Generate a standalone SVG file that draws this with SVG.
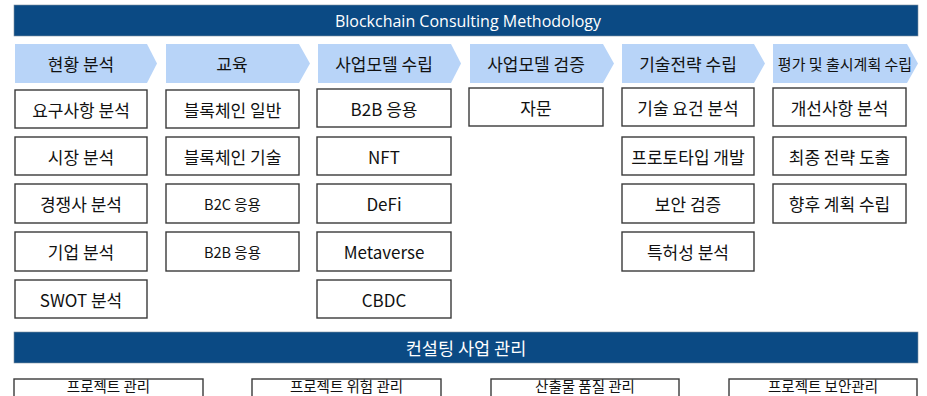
<svg xmlns="http://www.w3.org/2000/svg" width="927" height="396" viewBox="0 0 927 396">
<style>
  .banner { fill: #0B4A84; stroke: #7f8fa0; stroke-width: 0.6; }
  .btxt { fill: #ffffff; font-family: "Open Sans", "Noto Sans CJK KR", sans-serif; font-size: 16px; text-anchor: middle; dominant-baseline: central; }
  .chev { fill: #B8D4F8; }
  .ctxt { fill: #111; font-family: "Noto Sans CJK KR", sans-serif; font-size: 17px; text-anchor: middle; dominant-baseline: central; }
  .box { fill: #ffffff; stroke: #3a3a3a; stroke-width: 1.4; }
  .t { fill: #111; font-family: "Noto Sans CJK KR", sans-serif; font-size: 17px; text-anchor: middle; dominant-baseline: central; }
  .ts { font-size: 14.5px; }
  .tb { font-size: 14.5px; }
</style>
<rect width="927" height="396" fill="#ffffff"/>

<g id="title">
  <rect class="banner" x="14" y="5" width="904" height="31"/>
  <text class="btxt" x="468" y="20.5">Blockchain Consulting Methodology</text>
</g>

<g id="phase1"><polygon class="chev" points="15,44 147,44 157,63.5 147,83 15,83"/><text class="ctxt" x="81" y="63">현황 분석</text></g>
<g id="phase2"><polygon class="chev" points="166,44 299,44 310,63.5 299,83 166,83"/><text class="ctxt" x="232" y="63">교육</text></g>
<g id="phase3"><polygon class="chev" points="318,44 451,44 461,63.5 451,83 318,83"/><text class="ctxt" x="384" y="63">사업모델 수립</text></g>
<g id="phase4"><polygon class="chev" points="470,44 603,44 614,63.5 603,83 470,83"/><text class="ctxt" x="536" y="63">사업모델 검증</text></g>
<g id="phase5"><polygon class="chev" points="622,44 754,44 765,63.5 754,83 622,83"/><text class="ctxt" x="688" y="63">기술전략 수립</text></g>
<g id="phase6"><polygon class="chev" points="773,44 907,44 918,63.5 907,83 773,83"/><text class="ctxt" x="845" y="63" style="font-size:15px">평가 및 출시계획 수립</text></g>

<g id="c1r1"><rect class="box" x="15" y="90" width="132" height="38"/><text class="t" x="81" y="109">요구사항 분석</text></g>
<g id="c1r2"><rect class="box" x="15" y="137" width="132" height="38"/><text class="t" x="81" y="156">시장 분석</text></g>
<g id="c1r3"><rect class="box" x="15" y="184" width="132" height="39"/><text class="t" x="81" y="203.5">경쟁사 분석</text></g>
<g id="c1r4"><rect class="box" x="15" y="232" width="132" height="39"/><text class="t" x="81" y="251.5">기업 분석</text></g>
<g id="c1r5"><rect class="box" x="15" y="280" width="132" height="38"/><text class="t" x="81" y="299">SWOT 분석</text></g>

<g id="c2r1"><rect class="box" x="166" y="90" width="133" height="38"/><text class="t" x="232.5" y="109">블록체인 일반</text></g>
<g id="c2r2"><rect class="box" x="166" y="137" width="133" height="38"/><text class="t" x="232.5" y="156">블록체인 기술</text></g>
<g id="c2r3"><rect class="box" x="166" y="184" width="133" height="39"/><text class="t ts" x="232.5" y="203.5">B2C 응용</text></g>
<g id="c2r4"><rect class="box" x="166" y="232" width="133" height="39"/><text class="t ts" x="232.5" y="251.5">B2B 응용</text></g>

<g id="c3r1"><rect class="box" x="317" y="89" width="134" height="38"/><text class="t" x="384" y="108">B2B 응용</text></g>
<g id="c3r2"><rect class="box" x="317" y="137" width="134" height="38"/><text class="t" x="384" y="156">NFT</text></g>
<g id="c3r3"><rect class="box" x="317" y="184" width="134" height="39"/><text class="t" x="384" y="203.5">DeFi</text></g>
<g id="c3r4"><rect class="box" x="317" y="232" width="134" height="39"/><text class="t" x="384" y="251.5">Metaverse</text></g>
<g id="c3r5"><rect class="box" x="317" y="280" width="134" height="38"/><text class="t" x="384" y="299">CBDC</text></g>

<g id="c4r1"><rect class="box" x="469" y="88" width="134" height="38"/><text class="t" x="536" y="107">자문</text></g>

<g id="c5r1"><rect class="box" x="622" y="88" width="132" height="38"/><text class="t" x="688" y="107">기술 요건 분석</text></g>
<g id="c5r2"><rect class="box" x="622" y="137" width="132" height="38"/><text class="t" x="688" y="156">프로토타입 개발</text></g>
<g id="c5r3"><rect class="box" x="622" y="184" width="132" height="39"/><text class="t" x="688" y="203.5">보안 검증</text></g>
<g id="c5r4"><rect class="box" x="622" y="232" width="132" height="39"/><text class="t" x="688" y="251.5">특허성 분석</text></g>

<g id="c6r1"><rect class="box" x="773" y="88" width="133" height="38"/><text class="t" x="839.5" y="107">개선사항 분석</text></g>
<g id="c6r2"><rect class="box" x="773" y="137" width="133" height="38"/><text class="t" x="839.5" y="156">최종 전략 도출</text></g>
<g id="c6r3"><rect class="box" x="773" y="184" width="133" height="39"/><text class="t" x="839.5" y="203.5">향후 계획 수립</text></g>

<g id="mgmt">
  <rect class="banner" x="14" y="332" width="904" height="31"/>
  <text class="btxt" x="466" y="347" style="font-family:'Noto Sans CJK KR',sans-serif;font-size:17.5px">컨설팅 사업 관리</text>
</g>

<g id="m1"><rect class="box" x="14" y="379" width="189" height="30"/><text class="t tb" x="108.5" y="385.2">프로젝트 관리</text></g>
<g id="m2"><rect class="box" x="252" y="379" width="189" height="30"/><text class="t tb" x="346.5" y="385.2">프로젝트 위험 관리</text></g>
<g id="m3"><rect class="box" x="491" y="379" width="188" height="30"/><text class="t tb" x="585" y="385.2">산출물 품질 관리</text></g>
<g id="m4"><rect class="box" x="729" y="379" width="188" height="30"/><text class="t tb" x="823" y="385.2">프로젝트 보안관리</text></g>
</svg>
